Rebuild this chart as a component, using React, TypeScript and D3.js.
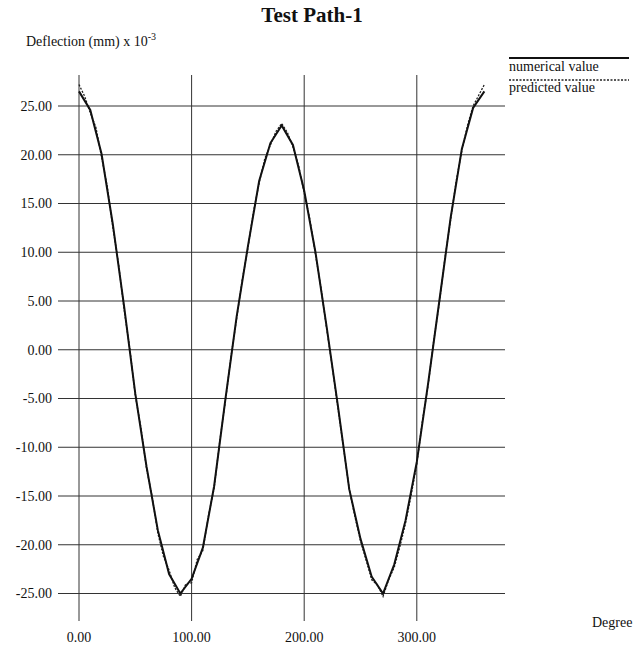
import React from "react";
import * as d3 from "d3";

const degreesNum = [0,10,20,30,40,50,60,70,80,90,100,110,120,130,140,150,160,170,180,190,200,210,220,230,240,250,260,270,280,290,300,310,320,330,340,350,360];
const numericalValues = [26.5,24.6,20.1,12.9,4.5,-4.5,-12.0,-18.5,-23.0,-25.0,-23.5,-20.3,-14.0,-5.1,3.4,10.6,17.3,21.2,23.0,21.0,16.3,10.0,2.3,-5.8,-14.3,-19.4,-23.3,-25.0,-22.0,-17.5,-11.5,-3.5,5.0,13.5,20.6,24.8,26.5];

const degreesPred = [0,5,10,15,20,25,30,35,40,45,50,55,60,65,70,75,80,85,90,95,100,105,110,115,120,125,130,135,140,145,150,155,160,165,170,175,180,185,190,195,200,205,210,215,220,225,230,235,240,245,250,255,260,265,270,275,280,285,290,295,300,305,310,315,320,325,330,335,340,345,350,355,360];
const predictedValues = [27.2,26.0,24.3,22.8,19.8,16.8,12.6,8.9,4.2,0.2,-4.7,-8.0,-12.2,-15.1,-18.8,-21.2,-22.6,-24.4,-25.3,-24.0,-23.9,-21.5,-20.6,-17.0,-14.2,-9.4,-5.3,-0.7,3.2,7.2,10.4,14.2,17.1,19.6,21.0,22.4,23.2,22.3,20.8,18.9,16.1,13.4,9.8,6.3,2.1,-1.8,-6.0,-10.1,-14.3,-17.1,-19.6,-21.6,-23.6,-24.1,-25.3,-23.6,-22.3,-20.2,-17.8,-14.9,-11.7,-7.3,-3.7,0.9,4.8,9.4,13.3,17.3,20.4,23.0,25.0,26.1,27.2];

const xTicks = [0, 100, 200, 300];
const yTicks = [25, 20, 15, 10, 5, 0, -5, -10, -15, -20, -25];

const titleText = "Test Path-1";
const yLabelText = "Deflection (mm) x 10";
const yLabelSup = "-3";
const xLabelText = "Degree";
const legendLabels = ["numerical value", "predicted value"];

const FONT = "'Liberation Serif', 'Times New Roman', serif";

export default function App() {
  const x = d3.scaleLinear().domain([0, 100]).range([79, 191.6]);
  const y = d3.scaleLinear().domain([-25, 25]).range([593.5, 106]);

  const gridLeft = 58;
  const gridRight = 505;
  const gridTop = 75;
  const gridBottom = 621;

  const numData = degreesNum.map((d, i) => [d, numericalValues[i]] as [number, number]);
  const predData = degreesPred.map((d, i) => [d, predictedValues[i]] as [number, number]);

  const line = d3
    .line<[number, number]>()
    .x((d) => x(d[0]))
    .y((d) => y(d[1]))
    .curve(d3.curveLinear);

  const fmt = (v: number) => d3.format(".2f")(v).replace("\u2212", "-");

  return (
    <svg
      width={637}
      height={657}
      style={{ position: "absolute", left: 0, top: 0, background: "#fff" }}
      fontFamily={FONT}
    >
      <rect x={0} y={0} width={637} height={657} fill="#fff" />
      <text x={312} y={22} textAnchor="middle" fontSize={21} fontWeight="bold" fill="#111">
        {titleText}
      </text>
      <text x={26} y={46} fontSize={14} fill="#111">
        {yLabelText}
        <tspan fontSize={10} dy={-6}>{yLabelSup}</tspan>
      </text>

      {/* horizontal grid */}
      {yTicks.map((t) => (
        <g key={"y" + t}>
          <line x1={gridLeft} x2={gridRight} y1={y(t)} y2={y(t)} stroke="#333" strokeWidth={1} />
          <text x={52} y={y(t)} dy="0.35em" textAnchor="end" fontSize={14} fill="#111">
            {fmt(t)}
          </text>
        </g>
      ))}

      {/* vertical grid */}
      {xTicks.map((t) => (
        <g key={"x" + t}>
          <line x1={x(t)} x2={x(t)} y1={gridTop} y2={gridBottom} stroke="#333" strokeWidth={1} />
          <text x={x(t)} y={642} textAnchor="middle" fontSize={14} fill="#111">
            {fmt(t)}
          </text>
        </g>
      ))}

      <text x={592} y={627} fontSize={14} fill="#111">
        {xLabelText}
      </text>

      <path d={line(predData) || ""} fill="none" stroke="#222" strokeWidth={1.3} strokeDasharray="2,1.5" />
      <path d={line(numData) || ""} fill="none" stroke="#111" strokeWidth={2} />

      {/* legend */}
      <line x1={509} x2={629} y1={58} y2={58} stroke="#111" strokeWidth={1.8} />
      <text x={509} y={71} fontSize={14} fill="#111">
        {legendLabels[0]}
      </text>
      <line x1={509} x2={629} y1={80} y2={80} stroke="#222" strokeWidth={1.3} strokeDasharray="2,1.5" />
      <text x={509} y={92} fontSize={14} fill="#111">
        {legendLabels[1]}
      </text>
    </svg>
  );
}
